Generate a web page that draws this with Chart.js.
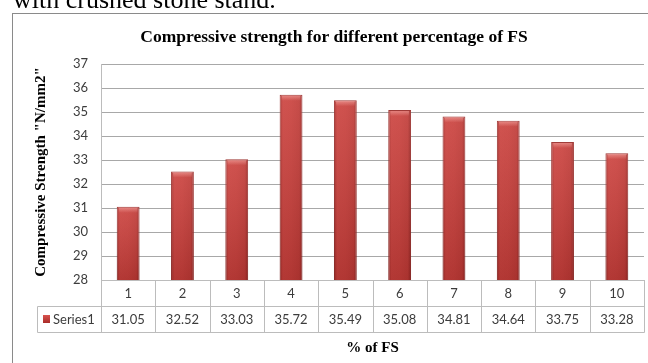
<!DOCTYPE html>
<html>
<head>
<meta charset="utf-8">
<script src="https://cdn.jsdelivr.net/npm/chart.js@4/dist/chart.umd.min.js"></script>
<style>
  html, body { margin: 0; padding: 0; background: #fff; overflow: hidden; }
  #wrap { position: relative; width: 648px; height: 363px; overflow: hidden; }
  #frame { position: absolute; left: 12px; top: 13px; width: 700px; height: 400px;
           border-left: 1px solid #8a8a8a; border-top: 1px solid #8a8a8a; }
  #caption { position: absolute; left: 13px; top: -13px; font: 26px "Liberation Serif", "Times New Roman", serif;
             line-height: 26px; color: #000; white-space: nowrap; }
  canvas { position: absolute; left: 0; top: 0; }
</style>
</head>
<body>
<div id="wrap">
  <div id="frame"></div>
  <canvas id="chart" width="648" height="363"></canvas>
  <div id="caption">with crushed stone stand.</div>
</div>
<script>
// Percentage of FS replacement (categories) and measured compressive strength
const categories = ['1', '2', '3', '4', '5', '6', '7', '8', '9', '10'];
const strength = [31.05, 32.52, 33.03, 35.72, 35.49, 35.08, 34.81, 34.64, 33.75, 33.28];
const seriesName = 'Series1';
const yMin = 28;
const yMax = 37;

const BAR_PCT = 0.42;
const SERIF = '"Liberation Serif", "Times New Roman", serif';
const TICK_FONT = { family: 'Lato, "Noto Sans", sans-serif', size: 13 };
const TEXT_COLOR = '#3c3c3c';
const LINE_COLOR = '#bcbcbc';

// Red bar with darker edges, like a bevelled column
function barFill(ctx) {
  const chart = ctx.chart;
  const xs = chart.scales.x;
  if (!xs || ctx.dataIndex === undefined) return '#c93d39';
  const cx = xs.getPixelForValue(ctx.dataIndex);
  const half = (xs.getPixelForValue(1) - xs.getPixelForValue(0)) * BAR_PCT / 2;
  if (!isFinite(cx) || !isFinite(half)) return '#c93d39';
  const g = chart.ctx.createLinearGradient(cx - half, 0, cx + half, 0);
  g.addColorStop(0, '#a52b28');
  g.addColorStop(0.14, '#cb403c');
  g.addColorStop(0.5, '#c93e3a');
  g.addColorStop(0.86, '#c03935');
  g.addColorStop(1, '#982522');
  return g;
}

// Top highlight and bottom shade over each bar, kept inside the plot
const barShade = {
  id: 'barShade',
  afterDatasetsDraw(chart) {
    const c = chart.ctx;
    const area = chart.chartArea;
    chart.getDatasetMeta(0).data.forEach(bar => {
      const left = bar.x - bar.width / 2;
      const base = Math.min(bar.base, area.bottom);
      const g = c.createLinearGradient(0, bar.y, 0, base);
      g.addColorStop(0, 'rgba(255,255,255,0.10)');
      g.addColorStop(1, 'rgba(0,0,0,0.12)');
      c.save();
      c.beginPath();
      c.rect(area.left, area.top, area.right - area.left, area.bottom - area.top);
      c.clip();
      c.fillStyle = g;
      c.fillRect(left, bar.y, bar.width, base - bar.y);
      const t = c.createLinearGradient(0, bar.y, 0, bar.y + 6);
      t.addColorStop(0, 'rgba(255,190,185,0.55)');
      t.addColorStop(1, 'rgba(255,190,185,0)');
      c.fillStyle = t;
      c.fillRect(left + 2, bar.y + 1, bar.width - 4, 6);
      c.restore();
    });
  }
};

// Data table under the plot: category row, then the series row with its key
const dataTable = {
  id: 'dataTable',
  afterDraw(chart) {
    const c = chart.ctx;
    const xs = chart.scales.x;
    const area = chart.chartArea;
    const step = xs.getPixelForValue(1) - xs.getPixelForValue(0);
    const rowH = 26;
    const top = area.bottom;
    const mid = top + rowH;
    const bot = mid + rowH;
    const keyLeft = 37;
    const crisp = v => Math.round(v) + 0.5;

    c.save();
    c.strokeStyle = LINE_COLOR;
    c.lineWidth = 1;
    c.beginPath();
    // horizontal rules
    c.moveTo(crisp(area.left), crisp(top)); c.lineTo(crisp(area.right), crisp(top));
    c.moveTo(crisp(keyLeft), crisp(mid)); c.lineTo(crisp(area.right), crisp(mid));
    c.moveTo(crisp(keyLeft), crisp(bot)); c.lineTo(crisp(area.right), crisp(bot));
    // vertical rules
    c.moveTo(crisp(keyLeft), crisp(mid)); c.lineTo(crisp(keyLeft), crisp(bot));
    for (let i = 0; i <= categories.length; i++) {
      const x = crisp(xs.getPixelForValue(i) - step / 2);
      c.moveTo(x, crisp(top)); c.lineTo(x, crisp(bot));
    }
    c.stroke();

    c.fillStyle = TEXT_COLOR;
    c.font = `${TICK_FONT.size}px ${TICK_FONT.family}`;
    c.textAlign = 'center';
    c.textBaseline = 'middle';
    categories.forEach((cat, i) => {
      const x = xs.getPixelForValue(i);
      c.fillText(cat, x, top + rowH / 2 + 1);
      c.fillText(strength[i].toFixed(2), x, mid + rowH / 2 + 1);
    });

    // legend key
    const kx = keyLeft + 6, ky = mid + rowH / 2 - 4;
    const kg = c.createLinearGradient(0, ky, 0, ky + 8);
    kg.addColorStop(0, '#d9534f');
    kg.addColorStop(1, '#a92c29');
    c.fillStyle = kg;
    c.fillRect(kx, ky, 7, 8);
    c.fillStyle = TEXT_COLOR;
    c.textAlign = 'left';
    c.fillText(seriesName, kx + 10, mid + rowH / 2 + 1);
    c.restore();
  }
};

new Chart(document.getElementById('chart'), {
  type: 'bar',
  data: {
    labels: categories,
    datasets: [{
      label: seriesName,
      data: strength,
      backgroundColor: barFill,
      borderColor: '#962623',
      borderWidth: 1,
      borderSkipped: 'bottom',
      barPercentage: BAR_PCT,
      categoryPercentage: 1
    }]
  },
  plugins: [barShade, dataTable],
  options: {
    responsive: false,
    animation: false,
    layout: { padding: { left: 24, right: 4, top: 20, bottom: 0 } },
    plugins: {
      legend: { display: false },
      tooltip: { enabled: false },
      title: {
        display: true,
        text: 'Compressive strength for different percentage of FS',
        color: '#000',
        font: { family: SERIF, size: 17.5, weight: 'bold' },
        padding: { top: 6.5, bottom: 16.5 }
      }
    },
    scales: {
      x: {
        grid: { display: false },
        border: { display: true, color: LINE_COLOR },
        ticks: { display: false },
        title: {
          display: true,
          text: '% of FS',
          color: '#000',
          font: { family: SERIF, size: 15, weight: 'bold' },
          padding: { top: 4, bottom: 6 }
        },
        afterFit(scale) { scale.height = 83; }
      },
      y: {
        min: yMin,
        max: yMax,
        ticks: { stepSize: 1, color: TEXT_COLOR, font: TICK_FONT, padding: 13 },
        grid: { color: '#a8a8a8', drawTicks: false },
        border: { display: true, color: LINE_COLOR },
        title: {
          display: true,
          text: 'Compressive Strength "N/mm2"',
          color: '#000',
          font: { family: SERIF, size: 15, weight: 'bold' },
          padding: { top: 8, bottom: 0 }
        },
        afterFit(scale) { scale.width = 77; }
      }
    }
  }
});
</script>
</body>
</html>
